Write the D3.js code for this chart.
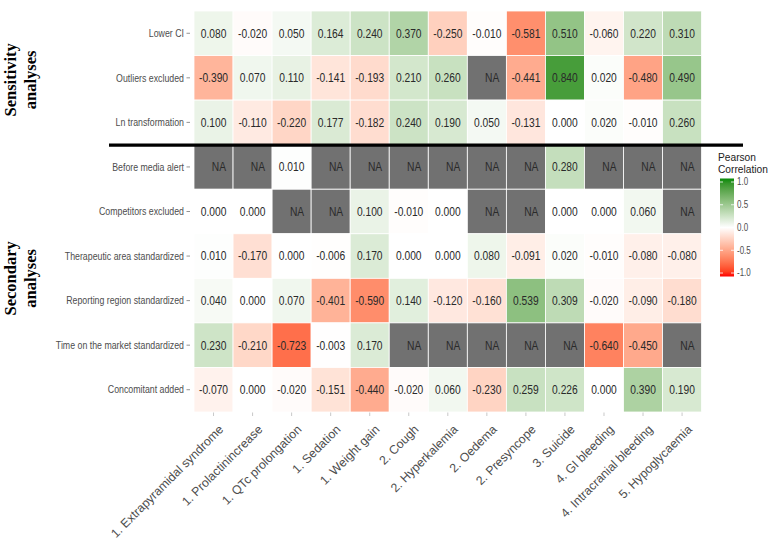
<!DOCTYPE html>
<html><head><meta charset="utf-8">
<script src="https://cdn.jsdelivr.net/npm/d3@7"></script>
<style>body{margin:0;background:#fff}svg{display:block}</style>
</head><body>
<svg id="chart" width="768" height="555"></svg>
<script>
const columns = ["1. Extrapyramidal syndrome","1. Prolactinincrease","1. QTc prolongation","1. Sedation","1. Weight gain","2. Cough","2. Hyperkalemia","2. Oedema","2. Presyncope","3. Suicide","4. GI bleeding","4. Intracranial bleeding","5. Hypoglycaemia"];
const rows = ["Lower CI","Outliers excluded","Ln transformation","Before media alert","Competitors excluded","Therapeutic area standardized","Reporting region standardized","Time on the market standardized","Concomitant added"];
const lowerCI        = [0.080,-0.020,0.050,0.164,0.240,0.370,-0.250,-0.010,-0.581,0.510,-0.060,0.220,0.310];
const outliersExcl   = [-0.390,0.070,0.110,-0.141,-0.193,0.210,0.260,null,-0.441,0.840,0.020,-0.480,0.490];
const lnTransform    = [0.100,-0.110,-0.220,0.177,-0.182,0.240,0.190,0.050,-0.131,0.000,0.020,-0.010,0.260];
const beforeMedia    = [null,null,0.010,null,null,null,null,null,null,0.280,null,null,null];
const competitorsExc = [0.000,0.000,null,null,0.100,-0.010,0.000,null,null,0.000,0.000,0.060,null];
const therapeuticStd = [0.010,-0.170,0.000,-0.006,0.170,0.000,0.000,0.080,-0.091,0.020,-0.010,-0.080,-0.080];
const regionStd      = [0.040,0.000,0.070,-0.401,-0.590,0.140,-0.120,-0.160,0.539,0.309,-0.020,-0.090,-0.180];
const timeMarketStd  = [0.230,-0.210,-0.723,-0.003,0.170,null,null,null,null,null,-0.640,-0.450,null];
const concomitant    = [-0.070,0.000,-0.020,-0.151,-0.440,-0.020,0.060,-0.230,0.259,0.226,0.000,0.390,0.190];
const seriesValues = [lowerCI,outliersExcl,lnTransform,beforeMedia,competitorsExc,therapeuticStd,regionStd,timeMarketStd,concomitant];
const legendBreaks = [1.0,0.5,0.0,-0.5,-1.0];
const groupTitles = [["Sensitivity","analyses"],["Secondary","analyses"]];

const FONT = "Liberation Sans, Arial, sans-serif";
const svg = d3.select("#chart");
const L = 194, R = 701.6, T = 11, B = 412;
const x = d3.scaleBand().domain(columns).range([L,R]).padding(0);
const y = d3.scaleBand().domain(rows).range([T,B]).padding(0);
const colorPos = d3.scaleLinear().domain([0,1]).range(["#ffffff","#078a07"]).interpolate(d3.interpolateLab);
const colorNeg = d3.scaleLinear().domain([0,1]).range(["#ffffff","#ff0000"]).interpolate(d3.interpolateLab);
const color = v => v >= 0 ? colorPos(v) : colorNeg(-v);

const cells = [];
rows.forEach((r,i)=>columns.forEach((c,j)=>cells.push({r,c,v:seriesValues[i][j]})));

const g = svg.append("g");
g.selectAll("rect.cell").data(cells).join("rect")
  .attr("x",d=>x(d.c)).attr("y",d=>y(d.r))
  .attr("width",x.bandwidth()).attr("height",y.bandwidth())
  .attr("fill",d=>d.v===null?"#717171":color(d.v))
  .attr("stroke","#fff").attr("stroke-width",0.8);

g.selectAll("text.val").data(cells).join("text")
  .attr("transform",d=>`translate(${x(d.c)+x.bandwidth()/2 + (d.v===null?12.5:0)},${y(d.r)+y.bandwidth()/2}) scale(0.82,1)`)
  .attr("text-anchor",d=>d.v===null?"end":"middle")
  .attr("dominant-baseline","central")
  .attr("font-family",FONT)
  .attr("font-size","12.5px")
  .attr("fill","#2a2a2a")
  .text(d=>d.v===null?"NA":d3.format(".3f")(d.v).replace("−","-"));

// y axis
const yAxis = g.append("g");
rows.forEach(r=>{
  const cy = y(r)+y.bandwidth()/2;
  yAxis.append("line").attr("x1",186.5).attr("x2",190).attr("y1",cy).attr("y2",cy).attr("stroke","#777").attr("stroke-width",0.8);
  yAxis.append("text").attr("transform",`translate(184,${cy}) scale(0.88,1)`).attr("text-anchor","end").attr("dominant-baseline","central")
    .attr("font-family",FONT).attr("font-size","10px").attr("fill","#4d4d4d").text(r);
});
// x axis
const xAxis = g.append("g");
columns.forEach(c=>{
  const cx = x(c)+x.bandwidth()/2;
  xAxis.append("line").attr("x1",cx).attr("x2",cx).attr("y1",B+0.5).attr("y2",B+4).attr("stroke","#bbb").attr("stroke-width",0.8);
  xAxis.append("text").attr("transform",`translate(${cx+4.5},${424}) rotate(-45)`)
    .attr("text-anchor","end").attr("dy","0.71em")
    .attr("font-family",FONT).attr("font-size","12.3px").attr("fill","#4d4d4d").text(c);
});

// separator line
svg.append("line").attr("x1",109).attr("x2",743).attr("y1",145.2).attr("y2",145.2).attr("stroke","#000").attr("stroke-width",3.3);

// group titles
const groupCenters = [(y(rows[0])+y(rows[2])+y.bandwidth())/2, (y(rows[3])+y(rows[8])+y.bandwidth())/2];
groupTitles.forEach((t,i)=>{
  const txt = svg.append("text").attr("transform",`translate(16,${groupCenters[i]+ (i===0?2:0)}) rotate(-90)`)
    .attr("text-anchor","middle").attr("font-family","Liberation Serif, Times New Roman, serif")
    .attr("font-weight","bold").attr("font-size","16.5px").attr("fill","#000");
  txt.append("tspan").attr("x",0).attr("y",0).text(t[0]);
  txt.append("tspan").attr("x",0).attr("y",19.5).text(t[1]);
});

// legend
const lg = svg.append("g");
lg.append("text").attr("x",718).attr("y",160.5).attr("font-family",FONT).attr("font-size","10.2px").attr("fill","#222").text("Pearson");
lg.append("text").attr("x",718).attr("y",172.5).attr("font-family",FONT).attr("font-size","10.2px").attr("fill","#222").text("Correlation");
const ly = d3.scaleLinear().domain([1,-1]).range([182,273]);
const defs = svg.append("defs");
const grad = defs.append("linearGradient").attr("id","lgGrad").attr("x1",0).attr("x2",0).attr("y1",0).attr("y2",1);
d3.range(0,21).forEach(k=>{
  const v = 1 - k/10;
  grad.append("stop").attr("offset",(k/20)).attr("stop-color",color(v));
});
lg.append("rect").attr("x",720).attr("y",ly(1)-3.5).attr("width",14).attr("height",ly(-1)-ly(1)+7).attr("fill","url(#lgGrad)");
legendBreaks.forEach(b=>{
  lg.append("line").attr("x1",720).attr("x2",723).attr("y1",ly(b)).attr("y2",ly(b)).attr("stroke","#fff").attr("stroke-width",0.8);
  lg.append("line").attr("x1",731).attr("x2",734).attr("y1",ly(b)).attr("y2",ly(b)).attr("stroke","#fff").attr("stroke-width",0.8);
  lg.append("text").attr("transform",`translate(737,${ly(b)}) scale(0.8,1)`).attr("dominant-baseline","central")
    .attr("font-family",FONT).attr("font-size","10px").attr("fill","#4d4d4d")
    .text(d3.format(".1f")(b).replace("−","-"));
});
</script>
</body></html>
